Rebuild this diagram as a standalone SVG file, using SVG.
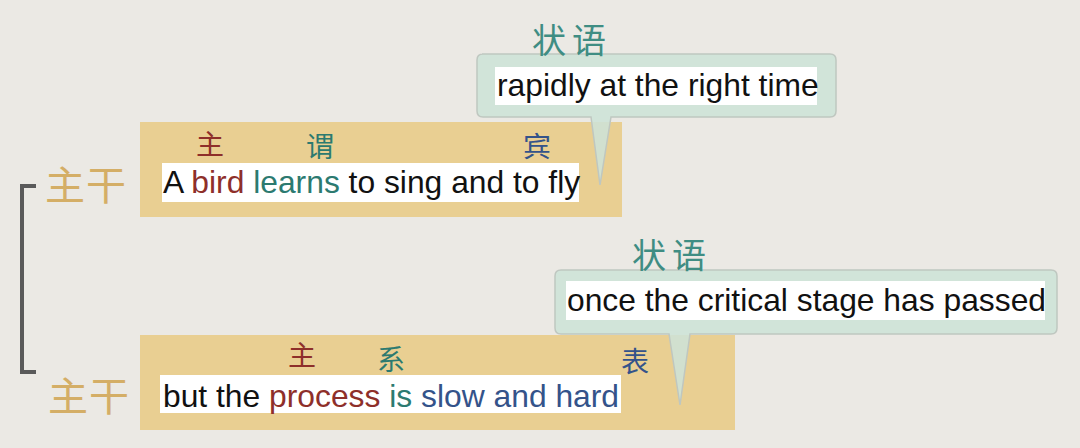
<svg xmlns="http://www.w3.org/2000/svg" width="1080" height="448" viewBox="0 0 1080 448">
<style>
.en{font-family:"Liberation Sans",Arial,sans-serif;font-size:31.8px;fill:#111}
.cj{font-family:"Noto Sans CJK SC",sans-serif}
.zg{font-size:40px;fill:#d4ae66;letter-spacing:1px}
.lab{font-size:28px}
.zy{font-size:34px;fill:#3f8d83;letter-spacing:6px}
.red{fill:#8e2f2a}
.teal{fill:#2c7a70}
.blue{fill:#34538a}
.tan{fill:#e9cf92}
.band{fill:#ffffff}
.call{fill:#cde3d7;stroke:#bfc7c0;stroke-width:1.5}
</style>
<rect x="0" y="0" width="1080" height="448" fill="#ebe9e4"/>
<g id="connectors">
<path d="M36 186 H22 V372 H36" fill="none" stroke="#5a5a5a" stroke-width="4"/>
</g>
<g id="main1">
<rect class="tan" x="140" y="122" width="482" height="95"/>
<rect class="band" x="162" y="163" width="417" height="39"/>
<text class="en" x="163" y="193">A <tspan class="red">bird</tspan> <tspan class="teal">learns</tspan> to sing and to fly</text>
<text class="cj lab red" x="196" y="155">主</text>
<text class="cj lab teal" x="306" y="157">谓</text>
<text class="cj lab blue" x="523" y="157">宾</text>
</g>
<g id="zhugan1"><text class="cj zg" x="45" y="200">主干</text></g>
<g id="callout1">
<path class="call" d="M482 54 H830 Q836 54 836 60 V111 Q836 117 830 117 H611 L600 185 L591 117 H483 Q477 117 477 111 V60 Q477 54 483 54 Z" fill-opacity="0.88"/>
<rect class="band" x="495" y="67" width="322" height="38"/>
<text class="en" x="497" y="96">rapidly at the right time</text>
<text class="cj zy" x="532" y="53">状语</text>
</g>
<g id="main2">
<rect class="tan" x="140" y="335" width="595" height="95"/>
<rect class="band" x="160" y="375" width="461" height="38"/>
<text class="en" x="163" y="407">but the <tspan class="red">process</tspan> <tspan class="teal">is</tspan> <tspan class="blue">slow and hard</tspan></text>
<text class="cj lab red" x="288" y="366">主</text>
<text class="cj lab teal" x="377" y="370">系</text>
<text class="cj lab blue" x="621" y="372">表</text>
</g>
<g id="zhugan2"><text class="cj zg" x="48" y="411">主干</text></g>
<g id="callout2">
<path class="call" d="M561 270 H1051 Q1057 270 1057 276 V328 Q1057 334 1051 334 H690 L680 405 L669 334 H561 Q555 334 555 328 V276 Q555 270 561 270 Z" fill-opacity="0.88"/>
<rect class="band" x="566" y="281" width="479" height="39"/>
<text class="en" x="567" y="311">once the critical stage has passed</text>
<text class="cj zy" x="632" y="268">状语</text>
</g>
</svg>
